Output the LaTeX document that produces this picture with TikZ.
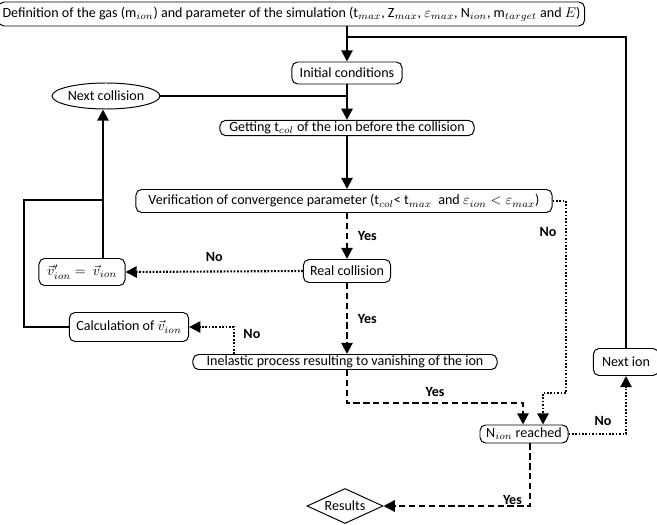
\documentclass[tikz,border=0pt]{standalone}
\usepackage{fontspec}
\setmainfont{Carlito}
\usetikzlibrary{arrows.meta,shapes.geometric}

\begin{document}
\begin{tikzpicture}[x=0.025cm, y=-0.025cm,
    every node/.style={font=\fontsize{10}{12}\selectfont, inner sep=1pt},
    box/.style={rectangle, rounded corners=4pt, draw, line width=0.7pt, align=center},
    lbl/.style={font=\fontsize{10}{12}\selectfont\bfseries},
    tip/.style={-{Triangle[length=8pt,width=8pt]}},
    solidln/.style={line width=1.5pt},
    dashln/.style={line width=1.5pt, dash pattern=on 4.5pt off 2.5pt},
    dotln/.style={line width=1.5pt, dash pattern=on 1.2pt off 1.2pt}]

    \useasboundingbox (0,0) rectangle (657,525);

    % boxes
    \node[box, anchor=east, minimum height=0.6cm, inner sep=3pt] (def) at (585,14)
        {Definition of the gas (m$_{ion}$) and parameter of the simulation (t$_{max}$, Z$_{max}$, $\varepsilon_{max}$, N$_{ion}$, m$_{target}$ and $E$)};
    \node[box, minimum width=2.75cm, minimum height=0.55cm] (init) at (347,73) {Initial conditions};
    \node[ellipse, draw, line width=0.7pt, minimum width=2.25cm, minimum height=0.65cm, inner sep=0pt] (nextcol) at (106,96) {Next collision};
    \node[box, minimum width=6.35cm, minimum height=0.38cm] (gettcol) at (347,128) {Getting t$_{col}$ of the ion before the collision};
    \node[box, minimum width=10.4cm, minimum height=0.575cm] (verif) at (344,201)
        {Verification of convergence parameter (t$_{col}$< t$_{max}$\ \ and $\varepsilon_{ion} < \varepsilon_{max}$)};
    \node[box, minimum width=2.18cm, minimum height=0.575cm] (real) at (347,271) {Real collision};
    \node[box, minimum width=2.15cm, minimum height=0.675cm] (vprime) at (82,272) {$\vec{v}'_{ion} =\ \vec{v}_{ion}$};
    \node[box, minimum width=2.98cm, minimum height=0.725cm] (calc) at (129,327) {Calculation of $\vec{v}_{ion}$};
    \node[box, minimum width=7.6cm, minimum height=0.375cm] (inel) at (345,362) {Inelastic process resulting to vanishing of the ion};
    \node[box, minimum width=2.2cm, minimum height=0.45cm] (nreach) at (524,434) {N$_{ion}$ reached};
    \node[box, minimum width=1.63cm, minimum height=0.675cm] (nextion) at (626,362) {Next ion};
    \node[diamond, draw, line width=0.7pt, aspect=2.2, minimum width=1.9cm, minimum height=0.875cm, inner sep=0pt] (results) at (345,506) {Results};

    % corner points
    \coordinate (topjoin) at (347,37);
    \coordinate (leftjoin) at (24,200);
    \coordinate (nojoin) at (234,327);
    \coordinate (vjoin) at (103,200);

    % solid connectors
    \draw[solidln, tip] (init.north |- def.south) -- (init.north);
    \draw[solidln] (nextion.north) |- (topjoin);
    \draw[solidln, tip] (init.south) -- (gettcol.north);
    \draw[solidln] (nextcol.east) -- (nextcol.east -| init);
    \draw[solidln, tip] (gettcol.south) -- (verif.north -| gettcol);
    \draw[solidln, tip] (vjoin |- vprime.north) -- (vjoin |- nextcol.south);
    \draw[solidln] (calc.west) -| (leftjoin) -- (vjoin);

    % dashed connectors (Yes)
    \draw[dashln, tip] (verif.south -| real) -- node[lbl, right=6pt] {Yes} (real.north);
    \draw[dashln, tip] (real.south) -- node[lbl, right=6pt] {Yes} (inel.north -| real);
    \draw[dashln, tip] (inel.south -| real) |- (523,403) node[lbl, pos=0.75, above=3pt] {Yes} -- (523,403 |- nreach.north);
    \draw[dashln, tip] (530,0 |- nreach.south) |- node[lbl, pos=0.45, left=4pt] {Yes} (results.east);

    % dotted connectors (No)
    \draw[dotln, tip] (real.west) -- node[lbl, above=5pt] {No} (vprime.east);
    \draw[dotln, tip] (nojoin |- inel.north) -- node[lbl, right=5pt, pos=0.75] {No} (nojoin) -- (calc.east);
    \draw[dotln, tip] (verif.east) -| (566,393) node[lbl, pos=0.58, left=5pt] {No} -| (543,0 |- nreach.north);
    \draw[dotln, tip] (nreach.east) -| node[lbl, pos=0.3, above=4pt] {No} (nextion.south);
\end{tikzpicture}
\end{document}
